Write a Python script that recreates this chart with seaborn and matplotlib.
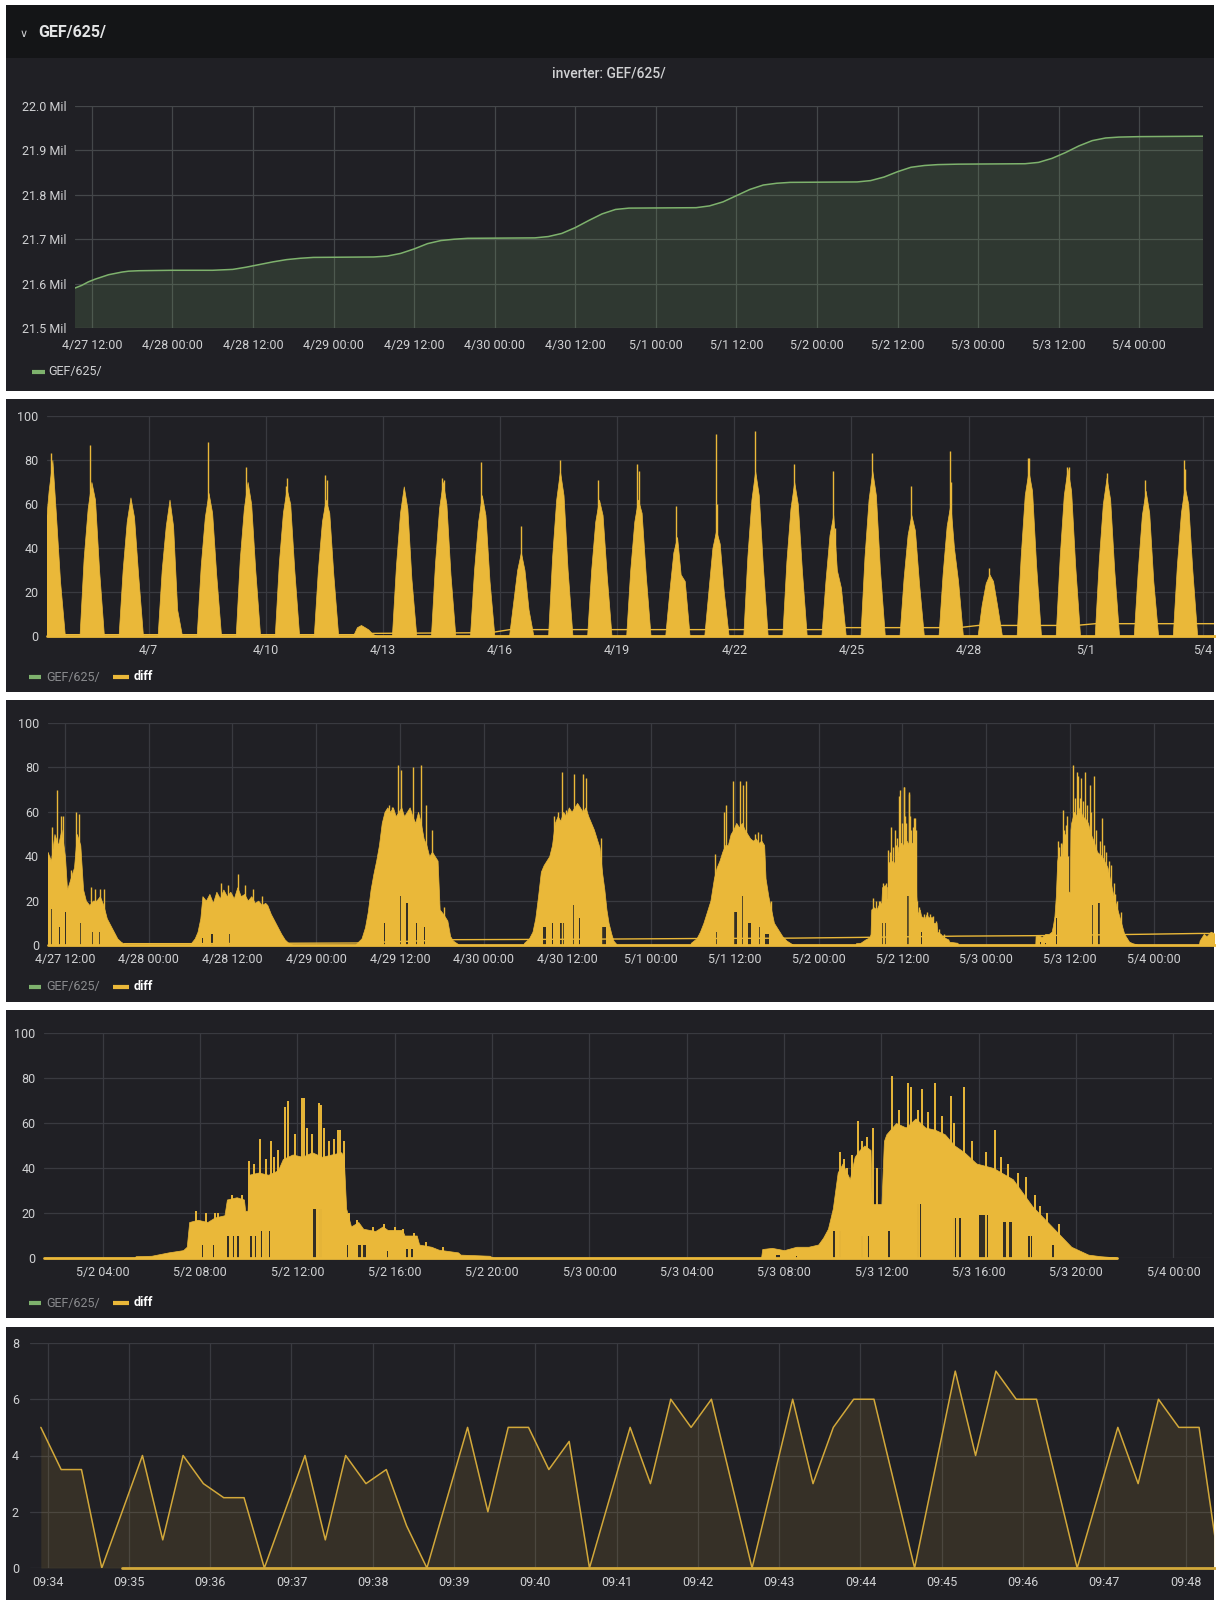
import numpy as np
import pandas as pd
import seaborn as sns
import matplotlib.pyplot as plt
import matplotlib.dates as mdates
from matplotlib.patches import Rectangle
from matplotlib.lines import Line2D

sns.set_theme(style='dark')
plt.rcParams['font.family'] = ['Roboto', 'DejaVu Sans']

W, H = 1216, 1600
PAGE = '#141517'
PANEL = '#202025'
GRID = '#393a40'
TXT = '#d0d1d3'
DIM = '#8a8b8e'
YELLOW = '#eab839'
YELLOW_DIM = '#d2a83a'
GREEN = '#7eb26d'
HOLE = '#332e25'

# ---------------- panel 1: energy counter (hours after 4/27 00:00, Mil)
energy_hours = [9.5, 10.5, 11.5, 12.5, 13.5, 14.5, 15.5, 16.5, 17.5, 19, 24, 30, 33, 35, 37, 39,
                41, 43, 45, 54, 56, 58, 60, 62, 64, 66, 68, 78, 80, 82, 84, 86, 88, 90, 92,
                102, 104, 106, 108, 110, 112, 114, 116, 126, 128, 130, 132, 134, 136, 138,
                141, 151, 153, 155, 157, 159, 161, 163, 165, 168, 177.5]
energy_mil = [21.590, 21.596, 21.604, 21.610, 21.615, 21.620, 21.623, 21.626, 21.628, 21.629,
              21.630, 21.630, 21.632, 21.637, 21.643, 21.649, 21.654, 21.657, 21.659, 21.660,
              21.662, 21.668, 21.678, 21.690, 21.697, 21.700, 21.702, 21.703, 21.706, 21.713,
              21.726, 21.742, 21.757, 21.767, 21.770, 21.771, 21.775, 21.784, 21.798, 21.812,
              21.822, 21.826, 21.828, 21.829, 21.832, 21.840, 21.852, 21.862, 21.866, 21.868,
              21.869, 21.870, 21.873, 21.882, 21.895, 21.910, 21.922, 21.928, 21.930, 21.931,
              21.932]
energy_ticks = [21.5, 21.6, 21.7, 21.8, 21.9, 22.0]
energy_labels = ['21.5 Mil', '21.6 Mil', '21.7 Mil', '21.8 Mil', '21.9 Mil', '22.0 Mil']

# ---------------- panel 2: 30 days of diff (value at month_hours for each day)
month_start = '2019-04-04'
month_hours = [5.5, 8.0, 10.5, 12.8, 15.0, 17.5, 20.5]
month_env = [
    [0, 45, 66, 80, 55, 25, 0], [0, 35, 58, 70, 62, 30, 0], [0, 30, 52, 63, 54, 28, 0],
    [0, 30, 50, 62, 50, 12, 0], [0, 32, 54, 65, 56, 28, 0], [0, 35, 58, 70, 60, 30, 0],
    [0, 33, 56, 67, 60, 30, 0], [0, 30, 52, 62, 56, 28, 0], [0, 4, 5, 4, 3, 1, 0],
    [0, 32, 56, 68, 58, 26, 0], [0, 33, 58, 70, 60, 28, 0], [0, 30, 52, 64, 55, 25, 0],
    [0, 15, 30, 38, 30, 12, 0], [0, 36, 62, 75, 64, 30, 0], [0, 30, 52, 62, 55, 28, 0],
    [0, 30, 52, 62, 56, 28, 0], [0, 20, 38, 45, 28, 25, 0], [0, 20, 40, 48, 42, 20, 0],
    [0, 36, 62, 75, 64, 32, 0], [0, 34, 58, 70, 60, 30, 0], [0, 25, 46, 55, 30, 22, 0],
    [0, 36, 62, 75, 64, 30, 0], [0, 26, 46, 55, 48, 24, 0], [0, 28, 50, 60, 40, 25, 0],
    [0, 14, 24, 28, 25, 14, 0], [0, 36, 64, 75, 66, 32, 0], [0, 36, 64, 76, 66, 32, 0],
    [0, 34, 60, 72, 62, 30, 0], [0, 30, 55, 66, 56, 25, 0], [0, 32, 56, 68, 60, 30, 0],
]
# (day index, hour, value)
month_spikes = [(0, 12.0, 83), (1, 12.0, 87), (4, 12.3, 88), (5, 12.0, 77), (5, 12.6, 62),
                (6, 12.2, 68), (6, 13.0, 72), (7, 12.4, 73), (7, 13.5, 71), (10, 12.4, 72),
                (10, 13.4, 71), (11, 12.2, 79), (12, 12.6, 50), (13, 12.8, 80), (14, 12.0, 71),
                (15, 12.4, 78), (15, 13.2, 75), (16, 12.0, 59), (17, 12.6, 92), (17, 13.6, 60),
                (18, 12.8, 93), (19, 12.8, 78), (20, 12.4, 75), (20, 13.6, 49), (21, 12.8, 83),
                (22, 12.6, 68), (23, 12.4, 84), (23, 13.4, 70), (24, 12.5, 31), (25, 12.2, 81),
                (25, 13.2, 81), (26, 12.6, 77), (26, 13.4, 77), (27, 12.8, 74), (28, 12.6, 71),
                (29, 11.6, 60), (29, 12.2, 80), (29, 13.0, 76)]
month_base_times = ['2019-04-04 18:00', '2019-04-12 06:00', '2019-04-12 18:00', '2019-04-15 18:00',
                    '2019-04-16 06:00', '2019-04-24 06:00', '2019-04-24 18:00', '2019-04-27 18:00',
                    '2019-04-28 06:00', '2019-04-30 18:00', '2019-05-01 06:00', '2019-05-04 09:30']
month_base_vals = [0.6, 0.6, 1.2, 1.5, 2.9, 2.9, 3.8, 3.8, 4.8, 4.8, 5.6, 5.6]
month_span = ['2019-04-04 09:30', '2019-05-04 09:30']
month_view = ['2019-04-04 09:30', '2019-05-04 06:50']
month_ticks = ['2019-04-07', '2019-04-10', '2019-04-13', '2019-04-16', '2019-04-19',
               '2019-04-22', '2019-04-25', '2019-04-28', '2019-05-01', '2019-05-04']
month_labels = ['4/7', '4/10', '4/13', '4/16', '4/19', '4/22', '4/25', '4/28', '5/1', '5/4']

# ---------------- panels 3 and 4: one week of diff, (hour of day, value)
env_0427 = [(9.3, 28), (9.5, 42), (10.0, 38), (10.5, 50), (11.0, 45), (11.5, 52), (12.0, 40),
            (12.3, 25), (12.8, 30), (13.3, 35), (13.7, 50), (14.2, 45), (14.6, 25), (15.0, 20),
            (15.5, 18), (16.0, 20), (16.5, 20), (17.0, 22), (17.5, 18), (18.0, 12), (18.5, 9),
            (19.0, 6), (19.5, 3), (20.0, 1.5), (20.5, 0.5), (20.7, 0)]
spk_0427 = [(10.2, 53), (10.8, 70), (11.45, 58), (11.7, 58), (12.8, 34), (13.6, 60), (14.0, 59),
            (15.8, 26), (16.3, 25), (17.0, 25), (17.6, 25)]
hole_0427 = [(10.1, 0.25, 16), (11.2, 0.2, 8), (12.1, 0.2, 15), (14.1, 0.3, 10), (15.9, 0.3, 6),
             (17.0, 0.3, 6)]

env_0428 = [(6.0, 0), (6.1, 1), (6.6, 3), (7.0, 6), (7.4, 12), (7.7, 22), (8.2, 20), (8.7, 23),
            (9.2, 19), (9.7, 24), (10.2, 21), (10.7, 25), (11.2, 22), (11.7, 24), (12.2, 21),
            (12.7, 26), (13.2, 22), (13.7, 23), (14.2, 20), (14.7, 22), (15.2, 19), (15.7, 20),
            (16.2, 18), (16.7, 19), (17.0, 18), (17.5, 14), (18.0, 11), (18.5, 8), (19.0, 5),
            (19.5, 2.5), (20.0, 1), (20.5, 0.3), (20.6, 0)]
spk_0428 = [(10.4, 28), (11.3, 27), (12.8, 32), (13.8, 27), (14.9, 25), (16.2, 22)]
hole_0428 = [(7.7, 0.2, 3), (9.1, 0.2, 5), (11.6, 0.2, 5)]

env_0429 = [(5.6, 0), (5.7, 0.5), (6.5, 3), (7.0, 8), (7.4, 15), (7.8, 25), (8.2, 32), (8.6, 38),
            (9.0, 45), (9.4, 55), (9.8, 60), (10.2, 62), (10.6, 60), (11.0, 62), (11.4, 58),
            (11.8, 60), (12.2, 62), (12.6, 58), (13.0, 60), (13.4, 62), (13.8, 58), (14.2, 55),
            (14.6, 60), (15.0, 55), (15.4, 48), (15.8, 45), (16.2, 40), (16.6, 42), (17.0, 40),
            (17.4, 38), (17.7, 16), (18.2, 14), (18.8, 11), (19.2, 4), (19.6, 2), (20.2, 0.7),
            (20.5, 0)]
spk_0429 = [(10.5, 63), (10.9, 62), (11.7, 81), (12.2, 79), (13.9, 80), (15.0, 81), (15.8, 63),
            (16.6, 52), (18.3, 17)]
hole_0429 = [(9.8, 0.2, 10), (12.2, 0.3, 22), (13.0, 0.3, 19), (14.4, 0.2, 10), (15.5, 0.2, 8)]

env_0430 = [(5.7, 0), (5.8, 1), (6.5, 3), (7.0, 6), (7.4, 12), (7.8, 22), (8.2, 33), (8.6, 36),
            (9.0, 38), (9.4, 40), (9.8, 45), (10.2, 55), (10.6, 58), (11.0, 56), (11.4, 60),
            (11.8, 58), (12.2, 62), (12.6, 60), (13.0, 62), (13.4, 64), (13.8, 62), (14.2, 60),
            (14.6, 62), (15.0, 58), (15.4, 55), (15.8, 52), (16.2, 48), (16.6, 44), (17.0, 32),
            (17.3, 25), (17.6, 16), (17.9, 10), (18.3, 5), (18.6, 2), (19.0, 0.5), (19.1, 0)]
spk_0430 = [(10.1, 58), (10.6, 60), (11.2, 78), (11.8, 61), (12.9, 77), (14.2, 77), (14.6, 75),
            (16.8, 48)]
hole_0430 = [(8.7, 0.4, 8), (9.9, 0.2, 10), (11.2, 0.5, 10), (12.9, 0.2, 18), (13.7, 0.2, 12),
             (17.3, 0.6, 8)]

env_0501 = [(5.6, 0), (5.7, 1), (6.5, 3), (7.0, 6), (7.5, 10), (8.0, 15), (8.5, 20), (9.0, 30),
            (9.4, 35), (9.8, 38), (10.2, 42), (10.6, 45), (11.0, 45), (11.4, 50), (11.8, 52),
            (12.2, 55), (12.6, 53), (13.0, 55), (13.4, 52), (13.8, 50), (14.2, 48), (14.6, 47),
            (15.0, 48), (15.4, 46), (15.8, 47), (16.2, 45), (16.4, 30), (16.8, 22), (17.2, 16),
            (17.6, 10), (18.2, 7), (18.8, 4), (19.4, 2), (20.0, 0.8), (20.4, 0)]
spk_0501 = [(9.1, 41), (10.4, 60), (10.7, 63), (11.7, 74), (12.7, 74), (13.1, 72), (13.6, 74),
            (14.9, 50), (15.3, 51), (15.8, 50), (17.2, 20)]
hole_0501 = [(9.3, 0.2, 6), (12.1, 0.3, 15), (13.2, 0.3, 22), (14.1, 0.3, 10), (15.5, 0.3, 8),
             (16.6, 0.5, 5)]

env_0502 = [(5.3, 0), (5.35, 0.8), (6.0, 1.0), (6.7, 2.5), (7.3, 3.5), (7.45, 5), (7.55, 16),
            (7.9, 17), (8.3, 16), (8.6, 18), (9.0, 19), (9.1, 26), (9.5, 27), (9.8, 26),
            (9.85, 21), (9.95, 21), (10.0, 37), (10.4, 38), (10.8, 37), (11.2, 39), (11.4, 44),
            (11.8, 46), (12.2, 45), (12.6, 47), (13.0, 45), (13.4, 46), (13.8, 47), (13.9, 45),
            (14.0, 22), (14.2, 14), (14.5, 16), (14.7, 13), (15.2, 12), (15.5, 14), (15.7, 12.5),
            (16.3, 12.5), (16.4, 10), (16.9, 10), (17.0, 6), (17.5, 5), (17.8, 3.7), (18.6, 2.5),
            (18.7, 1.5), (19.9, 1.0), (20.0, 0.3), (20.1, 0)]
spk_0502 = [(7.85, 21), (8.25, 20), (8.6, 20), (8.75, 20), (9.3, 28), (9.7, 28), (10.0, 43),
            (10.2, 42), (10.45, 53), (10.7, 44), (10.9, 52), (11.05, 45), (11.2, 48), (11.5, 67),
            (11.6, 70), (11.9, 55), (12.2, 71), (12.25, 71), (12.4, 58), (12.6, 55), (12.9, 69),
            (12.95, 68), (13.1, 58), (13.3, 52), (13.5, 53), (13.65, 57), (13.75, 57), (13.9, 52),
            (14.1, 20), (14.45, 17), (15.1, 14), (15.55, 15), (16.0, 14), (16.35, 13), (16.8, 11),
            (17.3, 7), (18.0, 5)]
hole_0502 = [(8.1, 0.06, 6), (8.55, 0.06, 6), (9.15, 0.08, 10), (9.35, 0.08, 10), (9.55, 0.1, 10),
             (10.1, 0.08, 10), (10.25, 0.08, 10), (10.5, 0.1, 12), (10.7, 0.08, 12), (10.85, 0.06, 12),
             (12.7, 0.12, 22), (12.95, 0.14, 22), (14.05, 0.06, 6), (14.55, 0.1, 6), (14.75, 0.1, 6),
             (15.7, 0.06, 3), (16.5, 0.12, 4), (16.7, 0.06, 4)]

env_0503 = [(7.05, 0), (7.1, 4), (7.5, 4.5), (8.0, 3.5), (8.5, 5), (9.0, 5), (9.4, 6), (9.6, 9),
            (9.8, 13), (10.0, 22), (10.1, 30), (10.2, 38), (10.4, 42), (10.7, 35), (10.9, 45),
            (11.1, 48), (11.3, 50), (11.55, 48), (11.6, 24), (12.0, 24), (12.1, 52), (12.2, 55),
            (12.6, 60), (13.0, 58), (13.4, 62), (13.8, 58), (14.2, 57), (14.6, 55), (15.0, 50),
            (15.4, 47), (15.9, 42), (16.6, 40), (17.4, 35), (18.2, 23), (19.0, 14), (19.8, 5),
            (20.5, 1.5), (21.0, 0.8), (21.6, 0.3), (21.7, 0)]
spk_0503 = [(10.3, 47), (10.45, 44), (10.6, 40), (10.8, 46), (11.05, 61), (11.2, 52), (11.4, 54),
            (11.65, 58), (11.8, 40), (12.45, 81), (12.7, 66), (13.1, 78), (13.2, 76), (13.5, 66),
            (13.65, 75), (13.9, 65), (14.2, 78), (14.5, 63), (14.85, 72), (15.0, 60), (15.4, 76),
            (15.7, 52), (16.3, 47), (16.65, 57), (16.9, 45), (17.2, 42), (17.6, 38), (17.95, 36),
            (18.3, 28), (18.5, 23), (18.8, 20), (19.3, 15)]
hole_0503 = [(7.75, 0.15, 1.5), (8.5, 0.06, 1), (10.05, 0.1, 12), (10.3, 0.08, 12), (11.2, 0.1, 10),
             (11.45, 0.1, 10), (12.3, 0.06, 12), (13.5, 0.06, 24), (13.62, 0.06, 24), (15.0, 0.1, 18),
             (15.22, 0.08, 18), (16.2, 0.35, 19), (17.05, 0.1, 16), (17.3, 0.14, 16), (18.05, 0.08, 10),
             (18.15, 0.05, 10), (19.05, 0.08, 6)]

env_0504 = [(6.5, 0), (6.6, 2), (7.2, 5), (7.6, 4), (8.2, 6), (8.8, 5), (9.5, 6)]

week_days = ['2019-04-27', '2019-04-28', '2019-04-29', '2019-04-30', '2019-05-01',
             '2019-05-02', '2019-05-03', '2019-05-04']
week_env = [env_0427, env_0428, env_0429, env_0430, env_0501, env_0502, env_0503, env_0504]
week_spk = [spk_0427, spk_0428, spk_0429, spk_0430, spk_0501, spk_0502, spk_0503, []]
week_hole = [hole_0427, hole_0428, hole_0429, hole_0430, hole_0501, hole_0502, hole_0503, []]
week_base_hours = [20.5, 30, 44.5, 53.7, 68, 78, 91, 101.6, 116.4, 125.3, 140, 151, 165.7, 174.5, 177.5]
week_base_vals = [0.6, 0.6, 0.8, 0.9, 2.4, 2.5, 2.7, 2.9, 3.1, 3.4, 4.0, 4.2, 4.8, 5.2, 5.2]
week_span = ['2019-04-27 09:30', '2019-05-04 09:30']
week_view = ['2019-04-27 09:30', '2019-05-04 08:40']
week_ticks = ['2019-04-27 12:00', '2019-04-28 00:00', '2019-04-28 12:00', '2019-04-29 00:00',
              '2019-04-29 12:00', '2019-04-30 00:00', '2019-04-30 12:00', '2019-05-01 00:00',
              '2019-05-01 12:00', '2019-05-02 00:00', '2019-05-02 12:00', '2019-05-03 00:00',
              '2019-05-03 12:00', '2019-05-04 00:00']
week_labels = ['4/27 12:00', '4/28 00:00', '4/28 12:00', '4/29 00:00', '4/29 12:00', '4/30 00:00',
               '4/30 12:00', '5/1 00:00', '5/1 12:00', '5/2 00:00', '5/2 12:00', '5/3 00:00',
               '5/3 12:00', '5/4 00:00']

two_days = ['2019-05-02', '2019-05-03']
two_span = ['2019-05-02 01:35', '2019-05-03 21:40']
two_range = ['2019-05-02 01:35', '2019-05-04 01:35']
two_ticks = ['2019-05-02 04:00', '2019-05-02 08:00', '2019-05-02 12:00', '2019-05-02 16:00',
             '2019-05-02 20:00', '2019-05-03 00:00', '2019-05-03 04:00', '2019-05-03 08:00',
             '2019-05-03 12:00', '2019-05-03 16:00', '2019-05-03 20:00', '2019-05-04 00:00']
two_labels = ['5/2 04:00', '5/2 08:00', '5/2 12:00', '5/2 16:00', '5/2 20:00', '5/3 00:00',
              '5/3 04:00', '5/3 08:00', '5/3 12:00', '5/3 16:00', '5/3 20:00', '5/4 00:00']

# ---------------- panel 5: 15 minutes, one sample every 15 s
p5_start = '2019-05-04 09:33:55'
p5_vals = [5.0, 3.5, 3.5, 0, 2.0, 4.0, 1.0, 4.0, 3.0, 2.5, 2.5, 0, 2.0, 4.0, 1.0, 4.0, 3.0, 3.5,
           1.5, 0, 2.5, 5.0, 2.0, 5.0, 5.0, 3.5, 4.5, 0, 2.5, 5.0, 3.0, 6.0, 5.0, 6.0, 3.0, 0,
           3.0, 6.0, 3.0, 5.0, 6.0, 6.0, 3.0, 0, 3.5, 7.0, 4.0, 7.0, 6.0, 6.0, 3.0, 0, 2.5, 5.0,
           3.0, 6.0, 5.0, 5.0, 0]
p5_zero_span = ['2019-05-04 09:34:55', '2019-05-04 09:48:25']
p5_range = ['2019-05-04 09:33:47', '2019-05-04 09:48:21']
p5_ticks = ['2019-05-04 09:%02d' % m for m in range(34, 49)]
p5_labels = ['09:%02d' % m for m in range(34, 49)]


def num(stamps):
    return mdates.date2num(pd.to_datetime(stamps))


def hours_of(day, hours):
    return mdates.date2num(pd.Timestamp(day) + pd.to_timedelta(np.asarray(hours, dtype=float), unit='h'))


def frac(x0, y0, x1, y1):
    return [x0 / W, 1 - y1 / H, (x1 - x0) / W, (y1 - y0) / H]


def box(x0, y0, x1, y1, color):
    fig.add_artist(Rectangle((x0 / W, 1 - y1 / H), (x1 - x0) / W, (y1 - y0) / H,
                             transform=fig.transFigure, facecolor=color, edgecolor='none', zorder=0))


def style(ax, xlim, ylim, yticks, ylabels, xticks, xlabels, xpad=6.5, ypad=5, grid=GRID):
    ax.set_facecolor('none')
    for s in ax.spines.values():
        s.set_visible(False)
    ax.set_xlim(xlim)
    ax.set_ylim(ylim)
    ax.set_yticks(yticks)
    ax.set_yticklabels(ylabels)
    ax.set_xticks(xticks)
    ax.set_xticklabels(xlabels)
    ax.grid(True, color=grid, lw=0.9)
    ax.set_axisbelow(True)
    ax.tick_params(axis='both', length=0, colors=TXT, labelsize=9)
    ax.tick_params(axis='x', pad=xpad)
    ax.tick_params(axis='y', pad=ypad)
    ax.set_xlabel('')
    ax.set_ylabel('')


def legend(y, items):
    for x0, x1, col, xt, label, tcol, weight in items:
        fig.add_artist(Line2D([x0 / W, x1 / W], [1 - y / H, 1 - y / H], transform=fig.transFigure,
                              color=col, lw=3, solid_capstyle='butt'))
        fig.text(xt / W, 1 - y / H, label, color=tcol, fontsize=9, fontweight=weight,
                 va='center', ha='left')


def draw_day(ax, day, env, spikes, holes, spike_lw):
    h, v = zip(*env)
    ax.fill_between(hours_of(day, h), 0, v, color=YELLOW, lw=0.5, edgecolor=YELLOW, zorder=2)
    for hh, wd, top in holes:
        ax.bar(hours_of(day, [hh])[0], top, width=wd / 24, color=HOLE, lw=0, zorder=3)
    if spikes:
        sh, sv = zip(*spikes)
        ax.vlines(hours_of(day, sh), 0, sv, color=YELLOW, lw=spike_lw, zorder=4)


fig = plt.figure(figsize=(W / 100, H / 100), dpi=100, facecolor='white')

# panel backgrounds
box(6, 5, 1214, 391, PANEL)
box(6, 5, 1214, 58, PAGE)
box(6, 399, 1214, 692, PANEL)
box(6, 700, 1214, 1002, PANEL)
box(6, 1010, 1214, 1318, PANEL)
box(6, 1327, 1214, 1600, PANEL)

fig.text(20 / W, 1 - 34 / H, '\u2228', color=TXT, fontsize=8, va='center',
         family=['DejaVu Sans'])
fig.text(38 / W, 1 - 33 / H, 'GEF/625/', color='#e4e5e6', fontsize=11.5, fontweight='bold',
         va='center')
fig.text(609 / W, 1 - 73 / H, 'inverter: GEF/625/', color=TXT, fontsize=10, fontweight='medium',
         ha='center', va='center')

# ---- panel 1
ax1 = fig.add_axes(frac(75, 106, 1203, 328))
x1 = hours_of('2019-04-27', energy_hours)
ax1.fill_between(x1, 0, energy_mil, color=GREEN, alpha=0.17, lw=0)
sns.lineplot(x=x1, y=energy_mil, ax=ax1, color=GREEN, lw=1.1)
style(ax1, num(week_span), (21.5, 22.0), energy_ticks, energy_labels, num(week_ticks), week_labels,
      xpad=8, ypad=6, grid='#44474a')
legend(372, [(32, 45, GREEN, 48, 'GEF/625/', TXT, 'normal')])

# ---- panel 2
ax2 = fig.add_axes(frac(47, 416, 1214, 636))
for i, row in enumerate(month_env):
    day = pd.Timestamp(month_start) + pd.Timedelta(days=i)
    ax2.fill_between(hours_of(day, month_hours), 0, row, color=YELLOW, lw=0.5, edgecolor=YELLOW, zorder=2)
sd = [pd.Timestamp(month_start) + pd.Timedelta(days=d, hours=h) for d, h, _ in month_spikes]
ax2.vlines(num(sd), 0, [v for _, _, v in month_spikes], color=YELLOW, lw=1, zorder=4)
ax2.plot(num(month_base_times), month_base_vals, color=YELLOW, lw=1, zorder=5)
ax2.plot(num(month_span), [0, 0], color=YELLOW, lw=2, zorder=5, clip_on=False)
style(ax2, num(month_view), (0, 100), [0, 20, 40, 60, 80, 100], ['0', '20', '40', '60', '80', '100'],
      num(month_ticks), month_labels, xpad=6, ypad=6)

# ---- panel 3
ax3 = fig.add_axes(frac(47.5, 723, 1214, 945))
for day, env, spk, hole in zip(week_days, week_env, week_spk, week_hole):
    draw_day(ax3, day, env, spk, hole, 1.0)
ax3.plot(hours_of('2019-04-27', week_base_hours), week_base_vals, color=YELLOW, lw=1, zorder=5)
ax3.plot(num(week_span), [0, 0], color=YELLOW, lw=2, zorder=5)
style(ax3, num(week_view), (0, 100), [0, 20, 40, 60, 80, 100], ['0', '20', '40', '60', '80', '100'],
      num(week_ticks), week_labels, xpad=5.5, ypad=6)
ax3.lines[-1].set_clip_on(False)

# ---- panel 4
ax4 = fig.add_axes(frac(44, 1033, 1212, 1258))
for day, env, spk, hole in zip(two_days, [env_0502, env_0503], [spk_0502, spk_0503],
                               [hole_0502, hole_0503]):
    draw_day(ax4, day, env, spk, hole, 1.4)
ax4.plot(num(two_span), [0, 0], color=YELLOW, lw=2, zorder=5, clip_on=False)
style(ax4, num(two_range), (0, 100), [0, 20, 40, 60, 80, 100], ['0', '20', '40', '60', '80', '100'],
      num(two_ticks), two_labels, xpad=6, ypad=6)

for y in (677, 987, 1303):
    legend(y, [(29, 41, GREEN, 46, 'GEF/625/', DIM, 'normal'),
               (113, 129, YELLOW, 134, 'diff', '#ffffff', 'bold')])

# ---- panel 5
ax5 = fig.add_axes(frac(30, 1343, 1214, 1568))
x5 = num(pd.date_range(p5_start, periods=len(p5_vals), freq='15s'))
ax5.fill_between(x5, 0, p5_vals, color=YELLOW, alpha=0.11, lw=0)
sns.lineplot(x=x5, y=p5_vals, ax=ax5, color=YELLOW_DIM, lw=1.1)
ax5.plot(num(p5_zero_span), [0, 0], color=YELLOW_DIM, lw=2, zorder=5, clip_on=False)
style(ax5, num(p5_range), (0, 8), [0, 2, 4, 6, 8], ['0', '2', '4', '6', '8'],
      num(p5_ticks), p5_labels, xpad=6, ypad=8)

fig.savefig('out.png', dpi=100, facecolor='white')
